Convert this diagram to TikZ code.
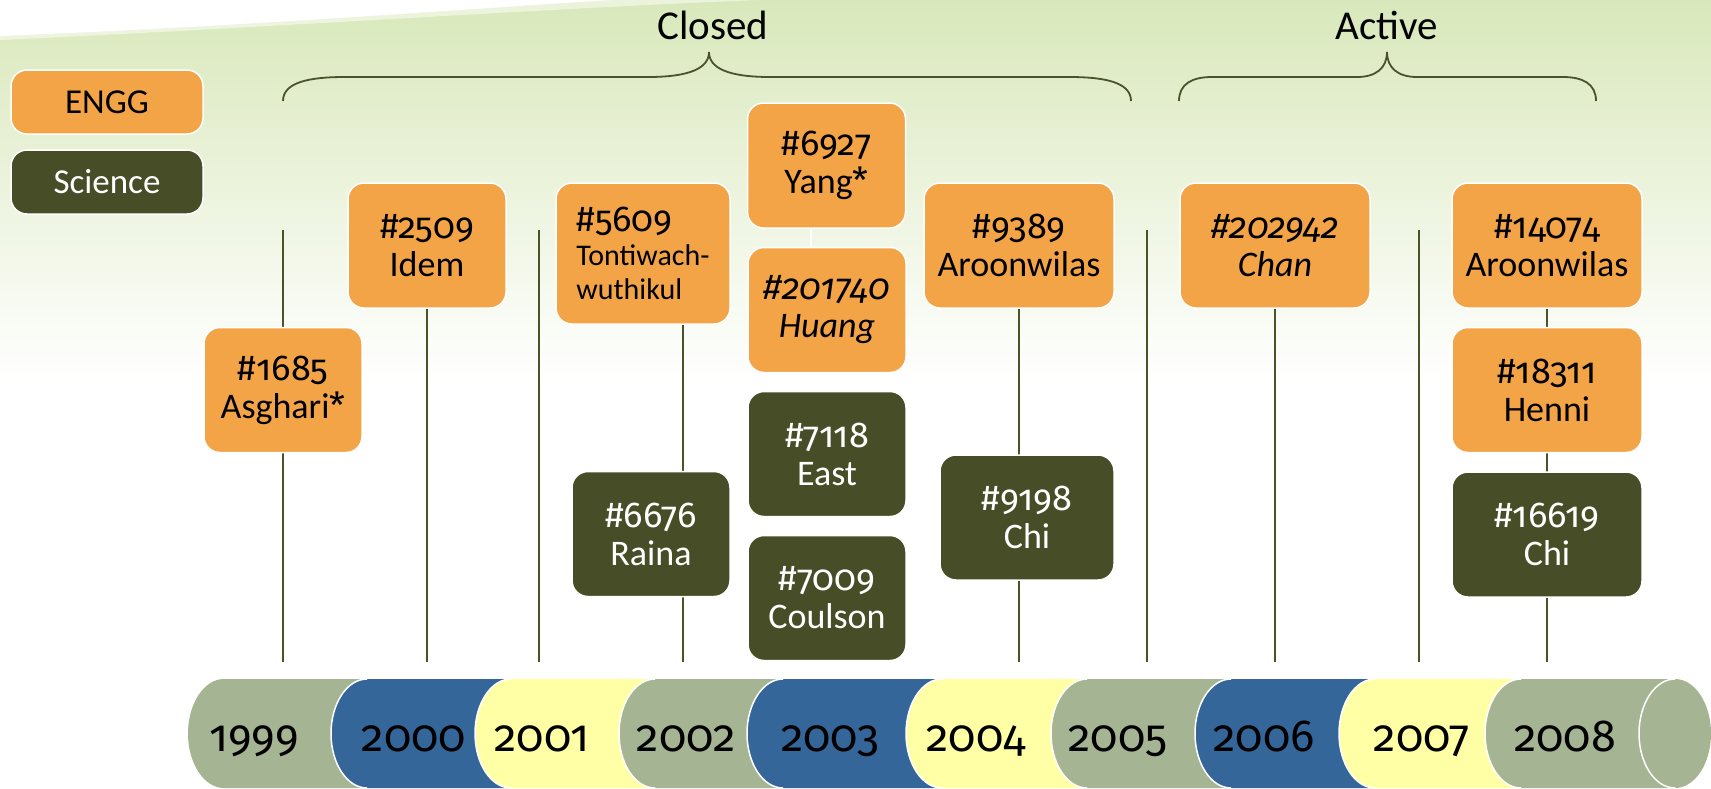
\documentclass[tikz,border=0pt]{standalone}
\usepackage{fontspec}
\setmainfont{Carlito}
\newfontfamily\oldnum{Fira Sans}[Numbers=OldStyle]
\usepackage{tikz}
\usetikzlibrary{backgrounds}

\definecolor{enggOrange}{HTML}{F3A447}
\definecolor{sciOlive}{HTML}{474E27}
\definecolor{stemOlive}{HTML}{4A5229}
\definecolor{sage}{HTML}{A5B492}
\definecolor{steel}{HTML}{346699}
\definecolor{pale}{HTML}{FFFFA6}
\definecolor{bgtop}{HTML}{D9E8BB}

\begin{document}
\begin{tikzpicture}[x=1pt, y=-1pt,
    box/.style={rectangle, rounded corners=16pt, draw=white, line width=1.5pt, inner sep=0pt, align=center, font=\fontsize{36}{38}\selectfont},
    engg/.style={box, fill=enggOrange, text=black},
    sci/.style={box, fill=sciOlive, text=white},
    narrow/.style={minimum width=158pt, minimum height=125pt},
    wide/.style={minimum width=190pt, minimum height=125pt},
    yearline/.style={draw=stemOlive, line width=2pt},
    spanbrace/.style={draw=stemOlive, line width=1.8pt},
    segedge/.style={draw=white, line width=1.5pt},
    yearlbl/.style={anchor=base, font=\oldnum\fontsize{45}{46}\selectfont}]
    \useasboundingbox (0,0) rectangle (1711,788);
    \begin{scope}[on background layer]
    \shade[top color=bgtop, bottom color=white] (0,0) rectangle (1711,380);
    \fill[white, opacity=0.5] (0,0) -- (0,40) .. controls (300,26) and (550,8) .. (760,0) -- cycle;
    \fill[white] (0,0) -- (0,36) .. controls (250,26) and (450,10) .. (611,0) -- cycle;
    \end{scope}

    % Legend
    \node[engg, minimum width=192pt, minimum height=64pt, font=\fontsize{35}{36}\selectfont] (legEngg) at (107,102) {ENGG};
    \node[sci, minimum width=192pt, minimum height=64pt, font=\fontsize{35}{36}\selectfont] (legSci) at (107,182) {Science};

    % Closed / Active spans
    \node[font=\fontsize{41}{42}\selectfont] (closed) at (713,25) {Closed};
    \node[font=\fontsize{41}{42}\selectfont] (active) at (1387,25) {Active};
    \draw[spanbrace] (283,101) .. controls (283,82) and (310,77) .. (345,77) -- (648,77)
        .. controls (690,77) and (709,68) .. (709,52) .. controls (709,68) and (728,77) .. (770,77)
        -- (1069,77) .. controls (1104,77) and (1131,82) .. (1131,101);
    \draw[spanbrace] (1179,101) .. controls (1179,84) and (1192,77) .. (1212,77) -- (1357,77)
        .. controls (1376,77) and (1387,68) .. (1387,52) .. controls (1387,68) and (1398,77) .. (1417,77)
        -- (1563,77) .. controls (1583,77) and (1596,84) .. (1596,101);

    % Cases
    \node[engg, narrow] (n1685) at (283,390) {{\oldnum\fontsize{36}{38}\selectfont\#1685}\\Asghari{\oldnum*}};
    \node[engg, narrow] (n2509) at (427,245.5) {{\oldnum\fontsize{36}{38}\selectfont\#2509}\\Idem};
    \node[engg, minimum width=174pt, minimum height=141pt, align=left, font=\fontsize{30}{34}\selectfont] (n5609) at (643,253.5)
        {{\oldnum\fontsize{36}{34}\selectfont\#5609}\\Tontiwach-\\wuthikul};
    \node[sci, narrow] (n6676) at (651,534) {{\oldnum\fontsize{36}{38}\selectfont\#6676}\\Raina};
    \node[engg, narrow] (n6927) at (826.5,165.5) {{\oldnum\fontsize{36}{38}\selectfont\#6927}\\Yang{\oldnum*}};
    \node[engg, narrow, font=\fontsize{36}{38}\selectfont\itshape] (n201740) at (827,310) {{\oldnum\fontsize{36}{38}\selectfont\itshape\#201740}\\Huang};
    \node[sci, narrow] (n7118) at (827,454) {{\oldnum\fontsize{36}{38}\selectfont\#7118}\\East};
    \node[sci, narrow] (n7009) at (827,598) {{\oldnum\fontsize{36}{38}\selectfont\#7009}\\Coulson};
    \node[engg, wide] (n9389) at (1019,245.5) {{\oldnum\fontsize{36}{38}\selectfont\#9389}\\Aroonwilas};
    \node[sci, minimum width=174pt, minimum height=125pt] (n9198) at (1027,517.5) {{\oldnum\fontsize{36}{38}\selectfont\#9198}\\Chi};
    \node[engg, wide, font=\fontsize{36}{38}\selectfont\itshape] (n202942) at (1275,245.5) {{\oldnum\fontsize{36}{38}\selectfont\itshape\#202942}\\Chan};
    \node[engg, wide] (n14074) at (1547,245.5) {{\oldnum\fontsize{36}{38}\selectfont\#14074}\\Aroonwilas};
    \node[engg, wide] (n18311) at (1547,390) {{\oldnum\fontsize{36}{38}\selectfont\#18311}\\Henni};
    \node[sci, wide] (n16619) at (1547,534.5) {{\oldnum\fontsize{36}{38}\selectfont\#16619}\\Chi};

    % Year lines
    \coordinate (t1999) at (283,230);  \coordinate (b1999) at (283,662);
    \coordinate (b2000) at (427,662);
    \coordinate (t2001) at (539,230);  \coordinate (b2001) at (539,662);
    \coordinate (b2002) at (683,662);
    \coordinate (f2003) at (811,0);
    \coordinate (b2004) at (1019,662);
    \coordinate (t2005) at (1147,230); \coordinate (b2005) at (1147,662);
    \coordinate (b2006) at (1275,662);
    \coordinate (t2007) at (1419,230); \coordinate (b2007) at (1419,662);
    \coordinate (b2008) at (1547,662);
    \begin{scope}[on background layer]
    \draw[yearline] (t1999) -- (b1999);
    \draw[yearline] (n2509) -- (b2000);
    \draw[yearline] (t2001) -- (b2001);
    \draw[yearline] (n5609.south -| b2002) -- (b2002);
    \draw[draw=white, line width=2pt] (n6927.south -| f2003) -- (n201740.north -| f2003); % faint link
    \draw[yearline] (n9389) -- (b2004);
    \draw[yearline] (t2005) -- (b2005);
    \draw[yearline] (n202942) -- (b2006);
    \draw[yearline] (t2007) -- (b2007);
    \draw[yearline] (n14074) -- (b2008);
    \end{scope}

    % Year band
    \fill[sage] (224,679) -- (367,679) -- (367,788) -- (224,788) arc[start angle=90, end angle=270, x radius=36, y radius=54.5] -- cycle;
    \fill[steel] (367,679) -- (511,679) -- (511,788) -- (367,788) arc[start angle=90, end angle=270, x radius=36, y radius=54.5] -- cycle;
    \draw[segedge] (367,679) arc[start angle=270, end angle=90, x radius=36, y radius=54.5];
    \fill[pale] (511,679) -- (655,679) -- (655,788) -- (511,788) arc[start angle=90, end angle=270, x radius=36, y radius=54.5] -- cycle;
    \draw[segedge] (511,679) arc[start angle=270, end angle=90, x radius=36, y radius=54.5];
    \fill[sage] (655,679) -- (783,679) -- (783,788) -- (655,788) arc[start angle=90, end angle=270, x radius=36, y radius=54.5] -- cycle;
    \draw[segedge] (655,679) arc[start angle=270, end angle=90, x radius=36, y radius=54.5];
    \fill[steel] (783,679) -- (942,679) -- (942,788) -- (783,788) arc[start angle=90, end angle=270, x radius=36, y radius=54.5] -- cycle;
    \draw[segedge] (783,679) arc[start angle=270, end angle=90, x radius=36, y radius=54.5];
    \fill[pale] (942,679) -- (1087,679) -- (1087,788) -- (942,788) arc[start angle=90, end angle=270, x radius=36, y radius=54.5] -- cycle;
    \draw[segedge] (942,679) arc[start angle=270, end angle=90, x radius=36, y radius=54.5];
    \fill[sage] (1087,679) -- (1231,679) -- (1231,788) -- (1087,788) arc[start angle=90, end angle=270, x radius=36, y radius=54.5] -- cycle;
    \draw[segedge] (1087,679) arc[start angle=270, end angle=90, x radius=36, y radius=54.5];
    \fill[steel] (1231,679) -- (1375,679) -- (1375,788) -- (1231,788) arc[start angle=90, end angle=270, x radius=36, y radius=54.5] -- cycle;
    \draw[segedge] (1231,679) arc[start angle=270, end angle=90, x radius=36, y radius=54.5];
    \fill[pale] (1375,679) -- (1521,679) -- (1521,788) -- (1375,788) arc[start angle=90, end angle=270, x radius=36, y radius=54.5] -- cycle;
    \draw[segedge] (1375,679) arc[start angle=270, end angle=90, x radius=36, y radius=54.5];
    \fill[sage] (1521,679) -- (1675,679) arc[start angle=270, end angle=450, x radius=36, y radius=54.5] -- (1521,788) arc[start angle=90, end angle=270, x radius=36, y radius=54.5] -- cycle;
    \draw[segedge] (1521,679) arc[start angle=270, end angle=90, x radius=36, y radius=54.5];
    \draw[segedge] (1675,679) arc[start angle=270, end angle=90, x radius=36, y radius=54.5]; % end face

    \node[yearlbl] (y1999) at (254,751) {1999};
    \node[yearlbl] (y2000) at (414,751) {2000};
    \node[yearlbl] (y2001) at (542,751) {2001};
    \node[yearlbl] (y2002) at (686,751) {2002};
    \node[yearlbl] (y2003) at (830,751) {2003};
    \node[yearlbl] (y2004) at (976,751) {2004};
    \node[yearlbl] (y2005) at (1118,751) {2005};
    \node[yearlbl] (y2006) at (1264,751) {2006};
    \node[yearlbl] (y2007) at (1422,751) {2007};
    \node[yearlbl] (y2008) at (1565,751) {2008};
\end{tikzpicture}
\end{document}
